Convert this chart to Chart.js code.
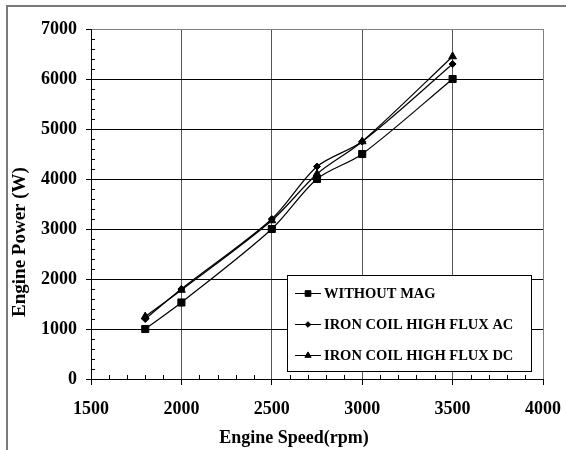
<!DOCTYPE html>
<html><head><meta charset="utf-8">
<script src="https://cdn.jsdelivr.net/npm/chart.js@4/dist/chart.umd.min.js"></script>
<style>html,body{margin:0;padding:0;background:#fff}</style>
</head><body>
<canvas id="c" width="566" height="450"></canvas>
<script>
// ---- data ----
const engineSpeed = [1800, 2000, 2500, 2750, 3000, 3500];
const withoutMag  = [1000, 1530, 3000, 4000, 4500, 6000];
const ironCoilAC  = [1200, 1800, 3200, 4250, 4750, 6300];
const ironCoilDC  = [1250, 1780, 3170, 4100, 4750, 6450];
const seriesLabels = ['WITHOUT MAG', 'IRON COIL HIGH FLUX AC', 'IRON COIL HIGH FLUX DC'];
const xTickValues = [1500, 2000, 2500, 3000, 3500, 4000];
const yTickValues = [0, 1000, 2000, 3000, 4000, 5000, 6000, 7000];
const xMinorStep = 100, yMinorStep = 200;
const xTitle = 'Engine Speed(rpm)';
const yTitle = 'Engine Power (W)';

const toPts = ys => engineSpeed.map((x, i) => ({x: x, y: ys[i]}));
const FONT = 'Liberation Serif, Times New Roman, serif';

const decor = {
  id: 'decor',
  beforeDraw(chart) {
    const ctx = chart.ctx;
    ctx.save();
    ctx.fillStyle = '#fff';
    ctx.fillRect(0, 0, chart.width, chart.height);
    ctx.strokeStyle = '#7a7a7a';
    ctx.lineWidth = 2;
    ctx.beginPath();
    ctx.moveTo(7, chart.height); ctx.lineTo(7, 6); ctx.lineTo(chart.width, 6);
    ctx.stroke();
    ctx.restore();
  },
  afterDraw(chart) {
    const ctx = chart.ctx, a = chart.chartArea;
    const xs = chart.scales.x, ys = chart.scales.y;
    ctx.save();
    // minor ticks (inside)
    ctx.strokeStyle = '#000'; ctx.lineWidth = 1;
    ctx.beginPath();
    for (let v = xs.min + xMinorStep; v < xs.max; v += xMinorStep) {
      if (xTickValues.includes(v)) continue;
      const px = Math.round(xs.getPixelForValue(v)) + 0.5;
      ctx.moveTo(px, a.bottom); ctx.lineTo(px, a.bottom - 4);
    }
    for (let v = ys.min + yMinorStep; v < ys.max; v += yMinorStep) {
      if (yTickValues.includes(v)) continue;
      const py = Math.round(ys.getPixelForValue(v)) + 0.5;
      ctx.moveTo(a.left, py); ctx.lineTo(a.left + 4, py);
    }
    ctx.stroke();

    // axis titles
    ctx.fillStyle = '#000';
    ctx.textAlign = 'center'; ctx.textBaseline = 'middle';
    ctx.font = 'bold 18px ' + FONT;
    ctx.fillText(xTitle, 294, 438);
    ctx.save();
    ctx.translate(20, 242); ctx.rotate(-Math.PI / 2);
    ctx.font = 'bold 19px ' + FONT;
    ctx.fillText(yTitle, 0, 0);
    ctx.restore();

    // legend box
    const bx = 287, by = 275, bw = 244, bh = 96;
    ctx.fillStyle = '#fff';
    ctx.fillRect(bx, by, bw, bh);
    ctx.strokeStyle = '#000'; ctx.lineWidth = 1;
    ctx.strokeRect(bx + 0.5, by + 0.5, bw, bh);
    const rowsY = [293, 324, 355];
    ctx.font = 'bold 14.5px ' + FONT;
    ctx.textAlign = 'left'; ctx.textBaseline = 'middle';
    chart.data.datasets.forEach((ds, i) => {
      const y = rowsY[i];
      ctx.strokeStyle = '#000'; ctx.lineWidth = 1;
      ctx.beginPath(); ctx.moveTo(295, y + 0.5); ctx.lineTo(321, y + 0.5); ctx.stroke();
      ctx.fillStyle = '#000';
      Chart.helpers.drawPoint(ctx, {pointStyle: ds.pointStyle, radius: ds.pointRadius * 0.8, rotation: 0, borderWidth: 1}, 308, y + 0.5);
      ctx.fillStyle = '#000';
      ctx.fillText(ds.label, 324, y + 1);
    });
    ctx.restore();
  }
};

const mk = (label, ys, style, r) => ({
  label: label, data: toPts(ys),
  borderColor: '#000', backgroundColor: '#000', borderWidth: 1.2,
  pointStyle: style, pointRadius: r, pointBackgroundColor: '#000', pointBorderColor: '#000',
  pointBorderWidth: 1, tension: 0.3, fill: false
});

const plain = v => String(v);

new Chart(document.getElementById('c'), {
  type: 'line',
  data: {
    datasets: [
      mk(seriesLabels[0], withoutMag, 'rect', 5),
      mk(seriesLabels[1], ironCoilAC, 'rectRot', 3.5),
      mk(seriesLabels[2], ironCoilDC, 'triangle', 4.5)
    ]
  },
  options: {
    responsive: false, animation: false, devicePixelRatio: 1,
    layout: {padding: {top: 29, right: 23, bottom: 0, left: 0}},
    plugins: {legend: {display: false}, tooltip: {enabled: false}},
    scales: {
      x: {
        type: 'linear', min: 1500, max: 4000,
        afterBuildTicks: s => { s.ticks = xTickValues.map(v => ({value: v})); },
        afterFit: s => { s.height = 71; s.paddingRight = 20; s.paddingLeft = 0; },
        grid: {
          color: c => (c.tick && c.tick.value === 4000) ? '#808080' : '#555',
          lineWidth: 1, tickLength: 6, drawTicks: true, tickColor: '#000'
        },
        border: {color: '#000', width: 1},
        ticks: {font: {family: FONT, size: 18, weight: 'bold'}, color: '#000', padding: 14, maxRotation: 0, autoSkip: false, callback: plain}
      },
      y: {
        type: 'linear', min: 0, max: 7000,
        afterBuildTicks: s => { s.ticks = yTickValues.map(v => ({value: v})); },
        afterFit: s => { s.width = 91; },
        grid: {
          color: c => (c.tick && c.tick.value === 7000) ? '#808080' : '#000',
          lineWidth: 1, tickLength: 5, drawTicks: true, tickColor: '#000'
        },
        border: {color: '#000', width: 1},
        ticks: {font: {family: FONT, size: 18, weight: 'bold'}, color: '#000', padding: 9, autoSkip: false, callback: plain}
      }
    }
  },
  plugins: [decor]
});
</script>
</body></html>
